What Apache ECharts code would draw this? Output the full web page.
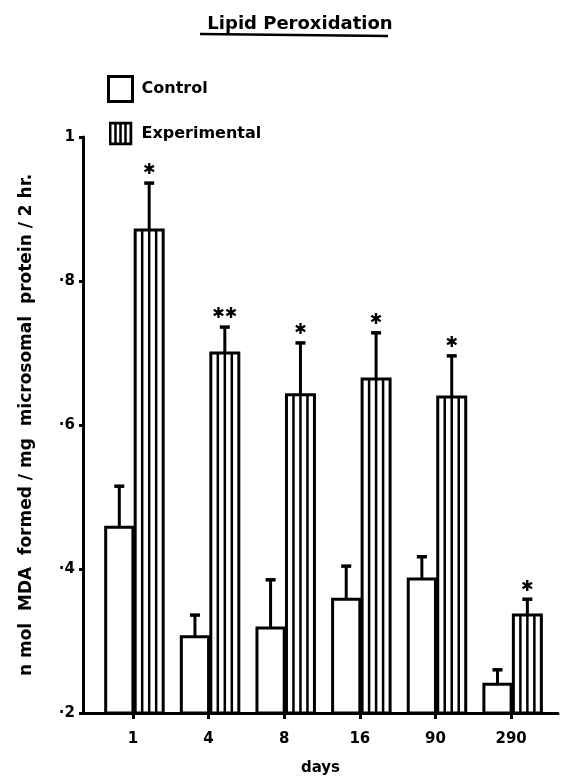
<!DOCTYPE html>
<html>
<head>
<meta charset="utf-8">
<script src="https://cdn.jsdelivr.net/npm/echarts@6/dist/echarts.min.js"></script>
<style>html,body{margin:0;padding:0;background:#fff}#c{width:572px;height:781px}</style>
</head>
<body>
<div id="c"></div>
<script>
// ---- data ----
const days = ['1', '4', '8', '16', '90', '290'];
const controlMean = [0.458, 0.306, 0.318, 0.358, 0.386, 0.240];
const controlErrTop = [0.515, 0.336, 0.385, 0.404, 0.417, 0.260];
const expMean = [0.871, 0.700, 0.642, 0.664, 0.639, 0.336];
const expErrTop = [0.936, 0.736, 0.714, 0.728, 0.696, 0.358];
const significance = ['✱', '✱✱', '✱', '✱', '✱', '✱'];
const yTicks = [0.2, 0.4, 0.6, 0.8, 1.0];

const FONT = 'DejaVu Sans';
const chart = echarts.init(document.getElementById('c'), null, {renderer: 'canvas'});

const stripeSvg = 'data:image/svg+xml;charset=utf-8,' + encodeURIComponent(
  '<svg xmlns="http://www.w3.org/2000/svg" width="24" height="24" viewBox="0 0 24 24">' +
  '<rect x="1.5" y="1.5" width="21" height="21" fill="#fff" stroke="#000" stroke-width="3"/>' +
  '<line x1="7" y1="1" x2="7" y2="23" stroke="#000" stroke-width="2.5"/>' +
  '<line x1="12" y1="1" x2="12" y2="23" stroke="#000" stroke-width="2.5"/>' +
  '<line x1="17" y1="1" x2="17" y2="23" stroke="#000" stroke-width="2.5"/>' +
  '</svg>');

function barItem(kind) {
  return function (params, api) {
    const i = api.value(0), v = api.value(1), e = api.value(2);
    const base = api.coord([i, 0.2]);
    const top = api.coord([i, v]);
    const et = api.coord([i, e]);
    const unit = api.size([1, 0])[0];
    const cx = base[0];
    let x0, w;
    if (kind === 'control') { x0 = cx - 0.36 * unit; w = 0.36 * unit; }
    else { x0 = cx + 0.03 * unit; w = 0.37 * unit; }
    const mx = x0 + w / 2;
    const children = [];
    children.push({type: 'rect', shape: {x: x0, y: top[1], width: w, height: base[1] - top[1]},
      style: {fill: '#fff', stroke: '#000', lineWidth: 3}});
    if (kind === 'exp') {
      [0.25, 0.5, 0.75].forEach(f => {
        children.push({type: 'line', shape: {x1: x0 + f * w, y1: top[1], x2: x0 + f * w, y2: base[1]},
          style: {stroke: '#000', lineWidth: 2.5}});
      });
    }
    children.push({type: 'line', shape: {x1: mx, y1: top[1], x2: mx, y2: et[1]}, style: {stroke: '#000', lineWidth: 3}});
    children.push({type: 'line', shape: {x1: mx - 5, y1: et[1], x2: mx + 5, y2: et[1]}, style: {stroke: '#000', lineWidth: 3.5}});
    if (kind === 'exp') {
      children.push({type: 'text', style: {text: significance[params.dataIndex], x: mx, y: et[1] - 5,
        align: 'center', verticalAlign: 'bottom', font: 'bold 15px "' + FONT + '"', fill: '#000'}});
    }
    return {type: 'group', children: children};
  };
}

const controlData = days.map((d, i) => [i, controlMean[i], controlErrTop[i]]);
const expData = days.map((d, i) => [i, expMean[i], expErrTop[i]]);

chart.setOption({
  backgroundColor: '#fff',
  animation: false,
  textStyle: {fontFamily: FONT, color: '#000'},
  title: {text: 'Lipid Peroxidation', left: 295, top: 10, textAlign: 'center',
    textStyle: {fontFamily: FONT, fontWeight: 'bold', fontSize: 18, color: '#000'}},
  graphic: [{type: 'line', shape: {x1: 200, y1: 34, x2: 388, y2: 36}, style: {stroke: '#000', lineWidth: 2.5}}],
  legend: {
    orient: 'vertical', left: 102, top: 70, itemWidth: 24, itemHeight: 25, itemGap: 18,
    textStyle: {fontFamily: FONT, fontWeight: 'bold', fontSize: 16, color: '#000', padding: [0, 0, 0, 4]},
    data: [
      {name: 'Control', icon: 'rect', itemStyle: {color: '#fff', borderColor: '#000', borderWidth: 3}},
      {name: 'Experimental', icon: 'image://' + stripeSvg}
    ]
  },
  grid: {left: 83, right: 14, top: 137, bottom: 68},
  xAxis: {
    type: 'value', min: -0.66, max: 5.62,
    name: 'days', nameLocation: 'middle', nameGap: 48,
    nameTextStyle: {fontFamily: FONT, fontWeight: 'bold', fontSize: 15, color: '#000'},
    axisLine: {show: true, onZero: false, lineStyle: {color: '#000', width: 3}},
    axisTick: {show: true, customValues: days.map((d, i) => i), length: 6, inside: false,
      lineStyle: {color: '#000', width: 3}},
    axisLabel: {customValues: days.map((d, i) => i), formatter: v => days[Math.round(v)], margin: 19,
      fontFamily: FONT, fontWeight: 'bold', fontSize: 15, color: '#000'},
    splitLine: {show: false}
  },
  yAxis: {
    type: 'value', min: 0.2, max: 1.0, interval: 0.2,
    name: 'n mol  MDA  formed / mg  microsomal  protein / 2 hr.', nameLocation: 'middle', nameGap: 48,
    nameTextStyle: {fontFamily: FONT, fontWeight: 'bold', fontSize: 17, color: '#000'},
    axisLine: {show: true, onZero: false, lineStyle: {color: '#000', width: 3}},
    axisTick: {show: true, length: 4, lineStyle: {color: '#000', width: 3}},
    axisLabel: {formatter: v => Math.abs(v - 1) < 1e-6 ? '1' : '·' + Math.round(v * 10), margin: 8,
      fontFamily: FONT, fontWeight: 'bold', fontSize: 15, color: '#000'},
    splitLine: {show: false}
  },
  series: [
    {name: 'Control', type: 'custom', renderItem: barItem('control'), data: controlData,
      itemStyle: {color: '#fff', borderColor: '#000'}, clip: false},
    {name: 'Experimental', type: 'custom', renderItem: barItem('exp'), data: expData,
      itemStyle: {color: '#fff', borderColor: '#000'}, clip: false}
  ]
});
</script>
</body>
</html>
